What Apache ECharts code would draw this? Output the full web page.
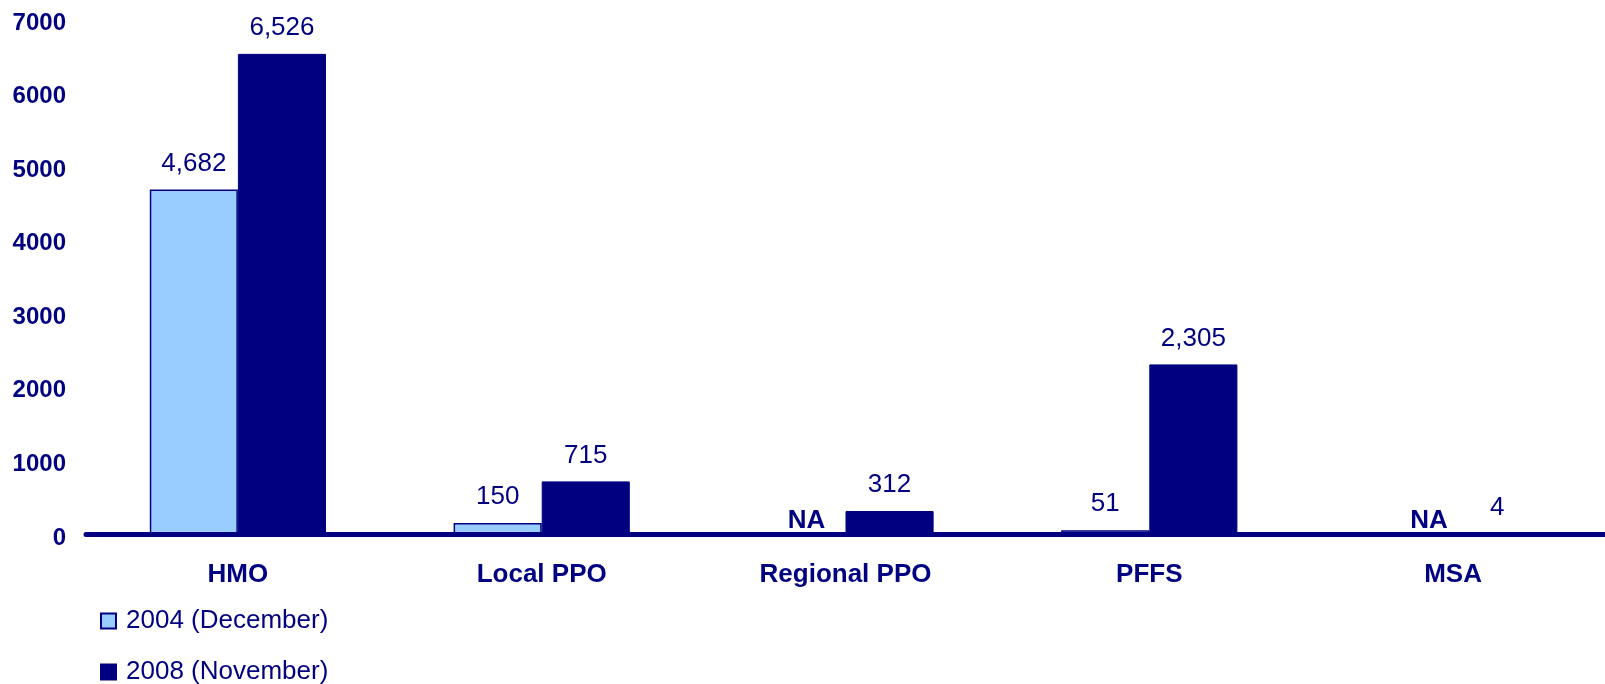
<!DOCTYPE html>
<html>
<head>
<meta charset="utf-8">
<script src="https://cdn.jsdelivr.net/npm/echarts@6/dist/echarts.min.js"></script>
<style>html,body{margin:0;padding:0;background:#fff}#c{width:1605px;height:684px}</style>
</head>
<body>
<div id="c"></div>
<script>
const categories = ['HMO', 'Local PPO', 'Regional PPO', 'PFFS', 'MSA'];
const seriesNames = ['2004 (December)', '2008 (November)'];
const values2004 = [4682, 150, null, 51, null];   // null = NA
const values2008 = [6526, 715, 312, 2305, 4];
const yTicks = [0, 1000, 2000, 3000, 4000, 5000, 6000, 7000];

const NAVY = '#000080';
const LIGHT = '#99CCFF';
const FONT = '"Liberation Sans", Arial, sans-serif';

const naOffsets = [null, null, [5, 0], null, [20, 0]];

function buildData(arr) {
  return arr.map((v, i) => {
    if (v === null) {
      return {
        value: 0,
        itemStyle: { borderWidth: 0, color: 'rgba(0,0,0,0)' },
        label: { formatter: 'NA', fontWeight: 'bold', distance: 0, offset: naOffsets[i] || [0, 0] }
      };
    }
    return v;
  });
}

const legendText = { fontSize: 26, lineHeight: 26, color: NAVY, fontFamily: FONT, padding: [0, 0, 0, 5] };

const chart = echarts.init(document.getElementById('c'), null, { renderer: 'canvas' });
chart.setOption({
  animation: false,
  textStyle: { fontFamily: FONT },
  grid: { left: 86, right: 0, top: 19, bottom: 150, containLabel: false },
  legend: [
    { orient: 'vertical', left: 100, top: 608, padding: 0, itemWidth: 15, itemHeight: 15, icon: 'rect',
      data: [seriesNames[0]], textStyle: legendText },
    { orient: 'vertical', left: 100, top: 659, padding: 0, itemWidth: 15, itemHeight: 15, icon: 'rect',
      data: [seriesNames[1]], textStyle: legendText }
  ],
  xAxis: {
    type: 'category',
    data: categories,
    axisTick: { show: false },
    axisLine: { show: true, lineStyle: { color: NAVY, width: 5, cap: 'round' } },
    axisLabel: { fontSize: 26, fontWeight: 'bold', color: NAVY, margin: 28, fontFamily: FONT },
    z: 10
  },
  yAxis: {
    type: 'value',
    min: yTicks[0],
    max: yTicks[yTicks.length - 1],
    interval: 1000,
    splitLine: { show: false },
    axisLine: { show: false },
    axisTick: { show: false },
    axisLabel: {
      margin: 20,
      formatter: v => '{t|' + v + '}',
      rich: { t: { fontSize: 24, fontWeight: 'bold', color: NAVY, fontFamily: FONT, padding: [8, 0, 0, 0] } }
    }
  },
  series: [
    {
      name: seriesNames[0],
      type: 'bar',
      barGap: '0%',
      barCategoryGap: '42%',
      data: buildData(values2004),
      itemStyle: { color: LIGHT, borderColor: NAVY, borderWidth: 1.5 },
      label: {
        show: true, position: 'top', distance: 13, fontSize: 26, color: NAVY, fontFamily: FONT,
        formatter: p => p.value.toLocaleString('en-US')
      }
    },
    {
      name: seriesNames[1],
      type: 'bar',
      data: buildData(values2008),
      itemStyle: { color: NAVY, borderColor: NAVY, borderWidth: 1 },
      label: {
        show: true, position: 'top', distance: 13, fontSize: 26, color: NAVY, fontFamily: FONT,
        formatter: p => p.value.toLocaleString('en-US')
      }
    }
  ]
});
</script>
</body>
</html>
